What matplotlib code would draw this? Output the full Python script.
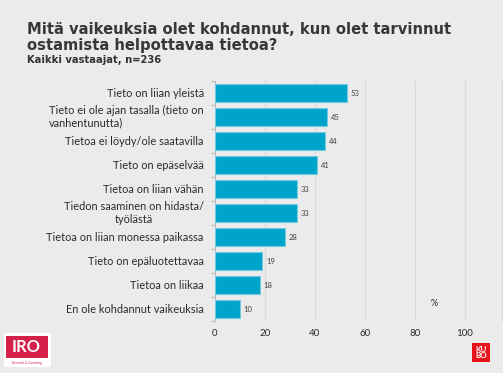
import matplotlib.pyplot as plt
from matplotlib.patches import Rectangle
from matplotlib.ticker import FixedLocator
from matplotlib.transforms import blended_transform_factory, offset_copy

# Data
categories = [
    "Tieto on liian yleistä",
    "Tieto ei ole ajan tasalla (tieto on\nvanhentunutta)",
    "Tietoa ei löydy/ole saatavilla",
    "Tieto on epäselvää",
    "Tietoa on liian vähän",
    "Tiedon saaminen on hidasta/\ntyölästä",
    "Tietoa on liian monessa paikassa",
    "Tieto on epäluotettavaa",
    "Tietoa on liikaa",
    "En ole kohdannut vaikeuksia",
]
values = [53, 45, 44, 41, 33, 33, 28, 19, 18, 10]
xticks = [0, 20, 40, 60, 80, 100]
# how the two-line labels are aligned in the original
label_align = ['right', 'left', 'right', 'right', 'right',
               'center', 'right', 'right', 'right', 'right']

bg = '#ebebeb'
bar_color = '#00a3c9'
text_color = '#2b2b2b'

plt.rcParams['font.family'] = ['Lato', 'DejaVu Sans']

fig = plt.figure(figsize=(5.03, 3.73), dpi=100)
fig.patch.set_facecolor(bg)

ax = fig.add_axes([0.4274, 0.1394, 0.5706, 0.6434])
ax.set_facecolor(bg)

y = list(range(len(categories)))[::-1]
ax.barh(y, values, height=0.72, color=bar_color,
        edgecolor='#6fcbe2', linewidth=0.8, zorder=3)
for yi, v in zip(y, values):
    ax.text(v + 1.5, yi, str(v), va='center', ha='left',
            fontsize=5.5, color='#444444')

ax.set_xlim(0, 115)
ax.set_ylim(-0.5, len(categories) - 0.5)
ax.set_xticks(xticks)
ax.set_xticklabels([str(t) for t in xticks], fontsize=7, color=text_color)
ax.set_yticks(y)
ax.set_yticklabels([])

# category labels drawn by hand so multi-line alignment can vary
trans = offset_copy(blended_transform_factory(ax.transAxes, ax.transData),
                    fig=fig, x=-8, y=0, units='points')
for yi, lab, al in zip(y, categories, label_align):
    ax.text(0, yi, lab, transform=trans, ha='right', va='center',
            multialignment=al, fontsize=7.9, color=text_color, linespacing=1.15)

ax.tick_params(axis='y', length=0)
ax.tick_params(axis='x', length=0, pad=6)
ax.yaxis.set_minor_locator(FixedLocator([i - 0.5 for i in range(len(categories) + 1)]))
ax.tick_params(axis='y', which='minor', length=3, color='#bbbbbb', width=0.8)

for t in [20, 40, 60, 80, 100]:
    ax.axvline(t, color='#d9d9d9', linewidth=0.9, zorder=1)

for s in ['top', 'bottom']:
    ax.spines[s].set_visible(False)
ax.spines['left'].set_color('#bbbbbb')
ax.spines['left'].set_linewidth(0.8)
ax.spines['right'].set_color('#d9d9d9')
ax.spines['right'].set_linewidth(0.9)

ax.text(88, 0.25, '%', fontsize=6.5, color=text_color, ha='center', va='center')

# Titles
fig.text(0.054, 0.942, 'Mitä vaikeuksia olet kohdannut, kun olet tarvinnut\nostamista helpottavaa tietoa?',
         fontsize=10.6, family='DejaVu Sans', fontweight='bold', color='#383838',
         va='top', ha='left', linespacing=1.12)
fig.text(0.054, 0.852, 'Kaikki vastaajat, n=236', fontsize=7.2, family='DejaVu Sans',
         fontweight='bold', color='#333333', va='top', ha='left')

# IRO logo
fig.patches.append(Rectangle((0.008, 0.016), 0.094, 0.090, transform=fig.transFigure,
                             facecolor='white', edgecolor='none'))
fig.patches.append(Rectangle((0.012, 0.040), 0.084, 0.060, transform=fig.transFigure,
                             facecolor='#d5204a', edgecolor='none'))
fig.text(0.052, 0.070, 'IRO', fontsize=12, fontweight='bold', color='white',
         ha='center', va='center')
fig.text(0.054, 0.027, 'Research & Consulting', fontsize=2.2, color='#d5204a',
         ha='center', va='center')

# KUBO logo
fig.patches.append(Rectangle((0.938, 0.030), 0.037, 0.050, transform=fig.transFigure,
                             facecolor='#e8141b', edgecolor='none'))
fig.text(0.9565, 0.055, 'KU\nBO', fontsize=5.8, fontweight='bold', color='white',
         ha='center', va='center', linespacing=0.85)

fig.savefig('out.png', dpi=100, facecolor=bg)
